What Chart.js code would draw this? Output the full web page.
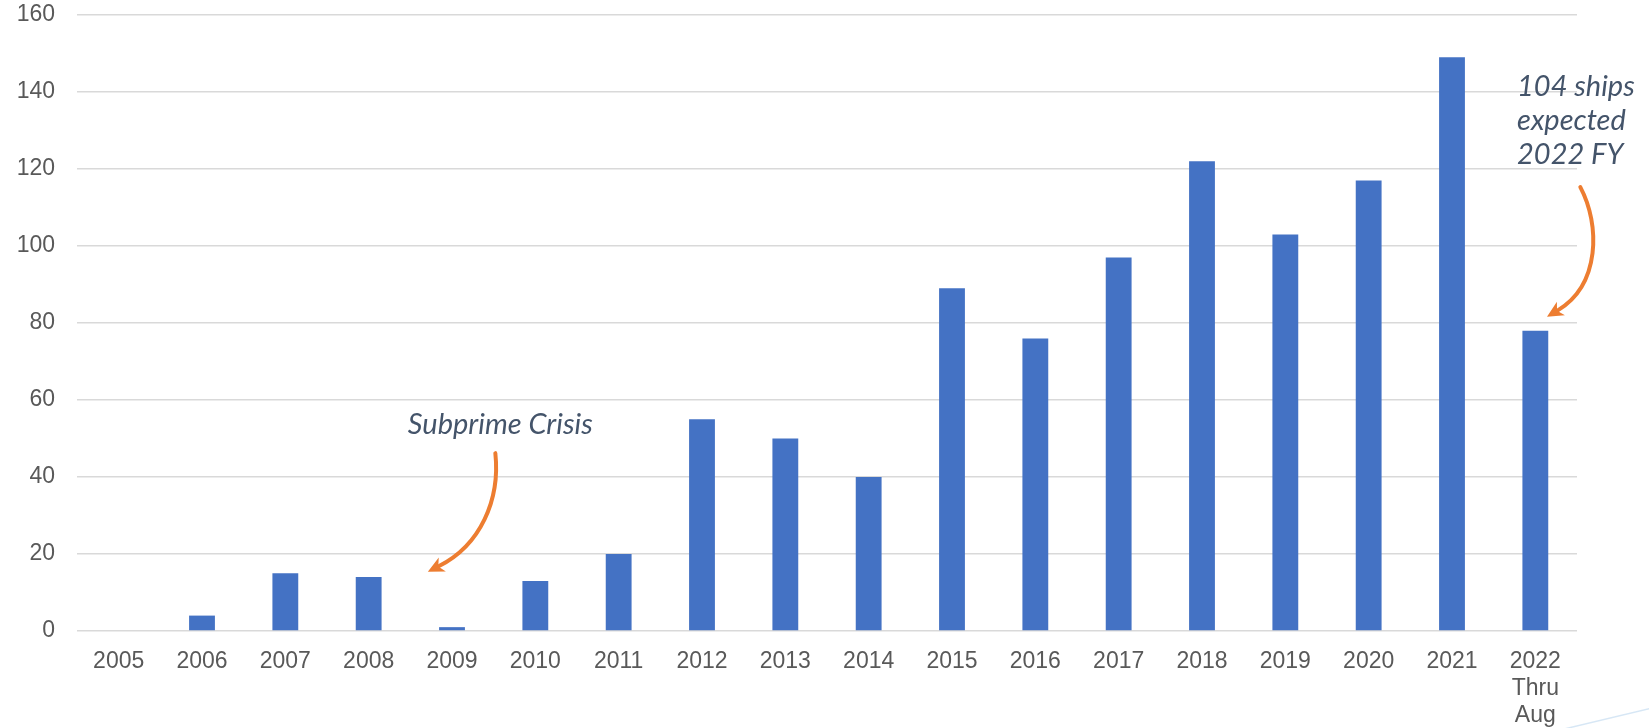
<!DOCTYPE html>
<html>
<head>
<meta charset="utf-8">
<script src="https://cdn.jsdelivr.net/npm/chart.js@4.4.1/dist/chart.umd.min.js"></script>
<style>
    html, body { margin: 0; padding: 0; background: #fff; }
    #wrap { width: 1649px; height: 728px; position: relative; }
</style>
</head>
<body>
<div id="wrap"><canvas id="shipChart"></canvas></div>
<script>
// Categories and values
const years = ['2005', '2006', '2007', '2008', '2009', '2010', '2011', '2012', '2013',
    '2014', '2015', '2016', '2017', '2018', '2019', '2020', '2021', ['2022', 'Thru', 'Aug']];
const ships = [0, 4, 15, 14, 1, 13, 20, 55, 50, 40, 89, 76, 97, 122, 103, 117, 149, 78];
const yTicks = [0, 20, 40, 60, 80, 100, 120, 140, 160];

const barColor = '#4472c4';
const arrowColor = '#ed7d31';
const noteColor = '#44546a';

// Notes are placed in data units (category index, value) and go through the scales
const notes = [
    {
        lines: ['Subprime Crisis'], x: 4.58, y: 53.6, align: 'center',
        arrow: [[4.52, 46.2], [4.58, 34], [4.34, 22.3], [3.71, 15.4]],
    },
    {
        lines: ['104 ships', 'expected', '2022 FY'], x: 16.78, y: 141.3, align: 'left',
        arrow: [[17.54, 115.3], [17.78, 105.5], [17.78, 89.9], [17.14, 81.6]],
    },
];

const notesPlugin = {
    id: 'notes',
    afterDatasetsDraw(chart) {
        const ctx = chart.ctx;
        const xs = chart.scales.x, ys = chart.scales.y;
        const px = (p) => [xs.getPixelForValue(p[0]), ys.getPixelForValue(p[1])];
        ctx.save();
        notes.forEach(n => {
            ctx.font = 'italic 29px Lato, "Open Sans", sans-serif';
            ctx.fillStyle = noteColor;
            ctx.textAlign = n.align;
            ctx.textBaseline = 'middle';
            let [tx, ty] = px([n.x, n.y]);
            n.lines.forEach((l, i) => ctx.fillText(l, tx, ty + i * 34));

            const pts = n.arrow.map(px);
            ctx.strokeStyle = arrowColor;
            ctx.fillStyle = arrowColor;
            ctx.lineWidth = 4;
            ctx.lineCap = 'round';
            // stop the line a little short so the head covers the end
            const end = pts[3], c2 = pts[2];
            const ang = Math.atan2(end[1] - c2[1], end[0] - c2[0]);
            const head = 18;
            const stop = [end[0] - Math.cos(ang) * head * 0.7, end[1] - Math.sin(ang) * head * 0.7];
            ctx.beginPath();
            ctx.moveTo(pts[0][0], pts[0][1]);
            ctx.bezierCurveTo(pts[1][0], pts[1][1], c2[0], c2[1], stop[0], stop[1]);
            ctx.stroke();
            ctx.beginPath();
            ctx.moveTo(end[0], end[1]);
            ctx.lineTo(end[0] - head * Math.cos(ang - 0.45), end[1] - head * Math.sin(ang - 0.45));
            ctx.lineTo(end[0] - head * 0.65 * Math.cos(ang), end[1] - head * 0.65 * Math.sin(ang));
            ctx.lineTo(end[0] - head * Math.cos(ang + 0.45), end[1] - head * Math.sin(ang + 0.45));
            ctx.closePath();
            ctx.fill();
        });
        ctx.restore();
    }
};

// faint swoosh in the bottom-right corner of the slide
const cornerPlugin = {
    id: 'corner',
    beforeDraw(chart) {
        const ctx = chart.ctx;
        ctx.save();
        ctx.strokeStyle = 'rgba(189, 215, 238, 0.6)';
        ctx.lineWidth = 1.5;
        ctx.beginPath();
        ctx.moveTo(1560, 730);
        ctx.quadraticCurveTo(1610, 718, 1652, 708);
        ctx.stroke();
        ctx.restore();
    }
};

Chart.defaults.font.family = '"Liberation Sans", Arial, sans-serif';
Chart.defaults.font.size = 23;
Chart.defaults.color = '#595959';

new Chart(document.getElementById('shipChart').getContext('2d'), {
    type: 'bar',
    data: {
        labels: years,
        datasets: [{
            label: 'Ships',
            data: ships,
            backgroundColor: barColor,
            borderWidth: 0,
            barPercentage: 0.31,
            categoryPercentage: 1,
        }]
    },
    options: {
        responsive: true,
        maintainAspectRatio: false,
        animation: false,
        layout: {
            padding: { left: 0, top: 15, right: 72, bottom: 0 }
        },
        plugins: {
            legend: { display: false },
            tooltip: { enabled: false },
        },
        scales: {
            y: {
                min: 0,
                max: 160,
                afterBuildTicks: (axis) => { axis.ticks = yTicks.map(v => ({ value: v })); },
                afterFit: (axis) => { axis.width = 77; },
                border: { display: false },
                grid: {
                    color: '#d9d9d9',
                    lineWidth: 1.5,
                    drawTicks: true,
                    tickLength: 22,
                    tickColor: 'rgba(0,0,0,0)',
                },
                ticks: {
                    padding: 0,
                    color: '#595959',
                }
            },
            x: {
                afterFit: (axis) => { axis.height = 97; },
                border: { display: false },
                grid: { display: false, drawTicks: false },
                ticks: {
                    padding: 17,
                    maxRotation: 0,
                    autoSkip: false,
                    color: '#595959',
                    font: { lineHeight: 1.18 },
                }
            }
        }
    },
    plugins: [notesPlugin, cornerPlugin],
});
</script>
</body>
</html>
